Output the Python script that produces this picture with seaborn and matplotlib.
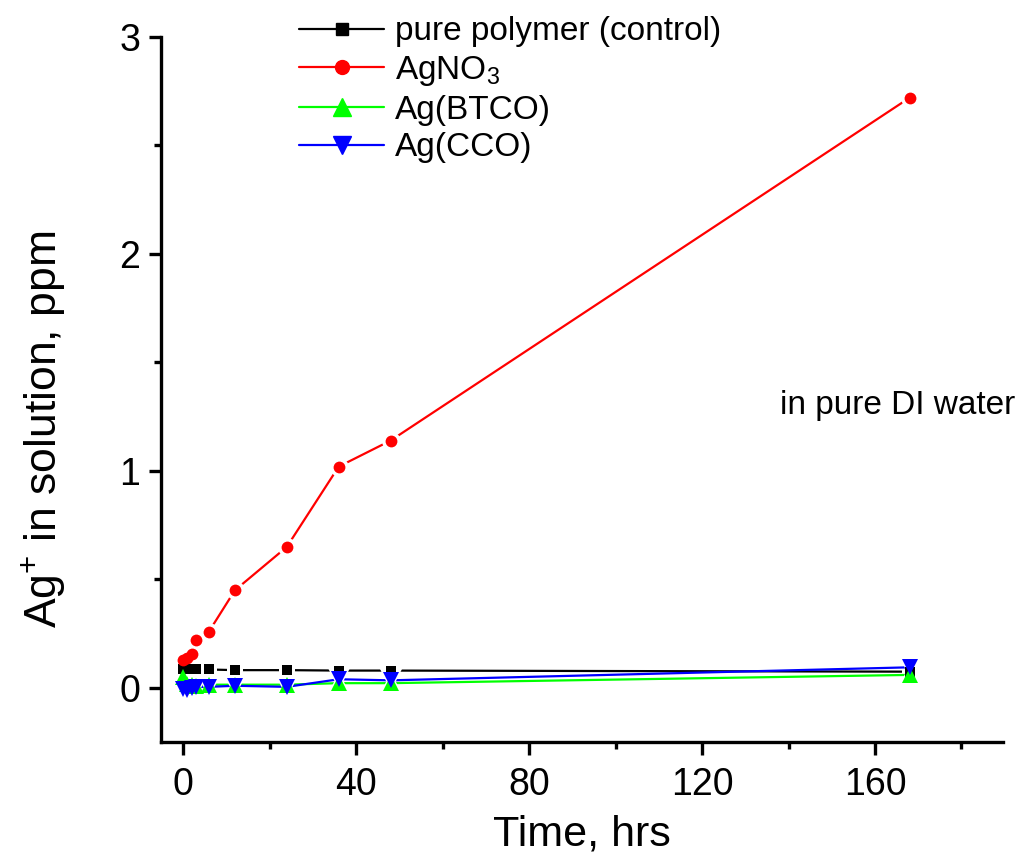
import matplotlib
matplotlib.use("Agg")
import matplotlib.pyplot as plt
from matplotlib.ticker import MultipleLocator
import seaborn as sns
import pandas as pd

# Sampling times (hours) and Ag+ concentrations (ppm)
hours = [0, 1, 2, 3, 6, 12, 24, 36, 48, 168]
control = [0.085, 0.085, 0.085, 0.085, 0.085, 0.082, 0.082, 0.08, 0.08, 0.075]
agno3 = [0.13, 0.14, 0.155, 0.22, 0.26, 0.45, 0.65, 1.02, 1.14, 2.72]
ag_btco = [0.05, 0.02, 0.015, 0.01, 0.015, 0.015, 0.015, 0.022, 0.022, 0.06]
ag_cco = [-0.005, -0.01, 0.0, 0.005, 0.005, 0.01, 0.005, 0.04, 0.035, 0.095]

series_labels = ["pure polymer (control)", "AgNO$_3$", "Ag(BTCO)", "Ag(CCO)"]
series_values = [control, agno3, ag_btco, ag_cco]
colors = ["#000000", "#ff0000", "#00ff00", "#0000ff"]
markers = ["s", "o", "^", "v"]
msizes = [6.5, 8.5, 11, 11]
leg_msizes = [8, 10, 13, 13]

sns.set_theme(style="ticks")
plt.rcParams["font.family"] = ["Liberation Sans", "DejaVu Sans"]
plt.rcParams["mathtext.fontset"] = "custom"
plt.rcParams["mathtext.rm"] = "Liberation Sans"
plt.rcParams["mathtext.it"] = "Liberation Sans"
for key in ["text.color", "axes.labelcolor", "xtick.color", "ytick.color"]:
    plt.rcParams[key] = "black"

fig = plt.figure(figsize=(10.22, 8.6), dpi=100)
ax = fig.add_axes([0.1575, 0.137, 0.8235, 0.820])

frames = [pd.DataFrame({"t": hours, "v": vals}) for vals in series_values]

# Connecting lines, broken around each point by a white halo
for df, c, m, ms in zip(frames, colors, markers, msizes):
    sns.lineplot(data=df, x="t", y="v", ax=ax, color=c, linewidth=1.6,
                 marker=m, markersize=ms + 5, markerfacecolor="white",
                 markeredgecolor="white", markeredgewidth=0,
                 legend=False, sort=False, zorder=2)

# Data point symbols on top
for df, c, m, ms in zip(frames, colors, markers, msizes):
    sns.lineplot(data=df, x="t", y="v", ax=ax, color=c, linewidth=0,
                 marker=m, markersize=ms, markeredgewidth=0,
                 legend=False, sort=False, zorder=3)

ax.set_xlim(-5.1, 189.5)
ax.set_ylim(-0.25, 3.0)
ax.xaxis.set_major_locator(MultipleLocator(40))
ax.xaxis.set_minor_locator(MultipleLocator(20))
ax.yaxis.set_major_locator(MultipleLocator(1))
ax.yaxis.set_minor_locator(MultipleLocator(0.5))

for side in ["top", "right"]:
    ax.spines[side].set_visible(False)
for side in ["left", "bottom"]:
    ax.spines[side].set_linewidth(2.4)
    ax.spines[side].set_color("black")

ax.tick_params(which="major", direction="out", length=9, width=2.4, labelsize=27,
               colors="black", pad=6)
ax.tick_params(axis="x", which="major", pad=9)
ax.tick_params(which="minor", direction="out", length=5, width=2.4, colors="black")

ax.set_xlabel("Time, hrs", fontsize=31, labelpad=8)
ax.set_ylabel("Ag$^{+}$ in solution, ppm", fontsize=32)
ax.yaxis.set_label_coords(-0.112, 0.443)

ax.text(138, 1.30, "in pure DI water", fontsize=24, ha="left", va="center")

leg_handles = [
    plt.Line2D([], [], color=c, marker=m, markersize=ms, linewidth=1.6)
    for c, m, ms in zip(colors, markers, leg_msizes)
]
ax.legend(leg_handles, series_labels, loc="upper left", bbox_to_anchor=(0.27, 1.008),
          bbox_transform=fig.transFigure, frameon=False, fontsize=24,
          handlelength=2.55, handletextpad=0.33, labelspacing=0.2, borderpad=0.2)

fig.savefig("out.png", dpi=100)
